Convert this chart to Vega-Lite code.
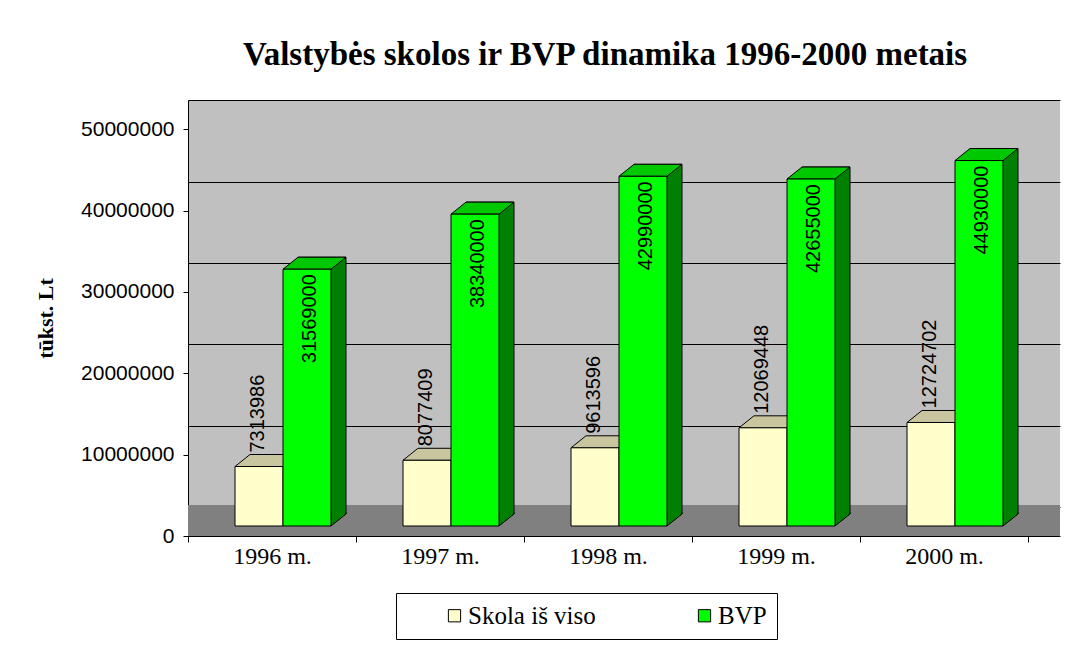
{
  "$schema": "https://vega.github.io/schema/vega-lite/v6.json",
  "width": 872,
  "height": 436,
  "autosize": "none",
  "padding": {"left": 188, "top": 100, "right": 26, "bottom": 114},
  "background": "white",
  "title": {
    "text": "Valstybės skolos ir BVP dinamika 1996-2000 metais",
    "font": "Liberation Serif",
    "fontSize": 33,
    "fontWeight": "bold",
    "color": "black",
    "baseline": "alphabetic",
    "offset": 32,
    "dy": 30,
    "dx": -19,
    "anchor": "middle"
  },
  "config": {
    "view": {"fill": "#C0C0C0", "stroke": null}
  },
  "data": {
    "values": [
      {"year": "1996 m.", "series": "Skola iš viso", "value": 7313986},
      {"year": "1997 m.", "series": "Skola iš viso", "value": 8077409},
      {"year": "1998 m.", "series": "Skola iš viso", "value": 9613596},
      {"year": "1999 m.", "series": "Skola iš viso", "value": 12069448},
      {"year": "2000 m.", "series": "Skola iš viso", "value": 12724702},
      {"year": "1996 m.", "series": "BVP", "value": 31569000},
      {"year": "1997 m.", "series": "BVP", "value": 38340000},
      {"year": "1998 m.", "series": "BVP", "value": 42990000},
      {"year": "1999 m.", "series": "BVP", "value": 42655000},
      {"year": "2000 m.", "series": "BVP", "value": 44930000}
    ]
  },
  "layer": [
    {
      "mark": {"type": "rect", "color": "#808080"},
      "encoding": {
        "y": {
          "datum": 0,
          "type": "quantitative",
          "scale": {"domain": [0, 53600000], "nice": false, "zero": true},
          "axis": {
            "orient": "right",
            "grid": true,
            "gridColor": "black",
            "gridWidth": 1,
            "gridOpacity": 1,
            "tickOffset": -29,
            "labels": false,
            "ticks": false,
            "domain": false,
            "title": null,
            "minExtent": 0,
            "maxExtent": 0,
            "values": [0, 10000000, 20000000, 30000000, 40000000, 50000000]
          }
        },
        "y2": {"datum": 3800000}
      }
    },
    {
      "transform": [{"filter": "datum.series === 'Skola iš viso'"}],
      "mark": {"type": "point", "shape": "M-1,0L1,0L1.625,-0.5L-0.375,-0.5Z", "size": 2304, "filled": true, "fill": "#C9C59E", "stroke": "black", "strokeWidth": 1, "opacity": 1, "fillOpacity": 1, "xOffset": -13, "yOffset": -10},
      "encoding": {
        "x": {"field": "year", "type": "nominal", "sort": null},
        "y": {"field": "value", "type": "quantitative", "axis": null}
      }
    },
    {
      "transform": [{"filter": "datum.series === 'Skola iš viso'"}],
      "mark": {"type": "bar", "width": 48, "xOffset": -13, "yOffset": -10, "y2Offset": -10, "stroke": "black", "strokeWidth": 1},
      "encoding": {
        "x": {
          "field": "year",
          "type": "nominal",
          "sort": null,
          "scale": {"paddingInner": 0, "paddingOuter": 0.0952, "align": 0},
          "axis": {
            "title": null,
            "labelAngle": 0,
            "labelAlign": "center",
            "labelFont": "Liberation Serif",
            "labelFontSize": 24,
            "labelColor": "black",
            "domainColor": "black",
            "tickColor": "black",
            "ticks": true,
            "tickSize": 6,
            "tickWidth": 1,
            "tickBand": "extent",
            "labelPadding": 14,
            "grid": false
          }
        },
        "y": {
          "field": "value",
          "type": "quantitative",
          "axis": {
            "orient": "left",
            "grid": false,
            "values": [0, 10000000, 20000000, 30000000, 40000000, 50000000],
            "format": "d",
            "domainColor": "black",
            "tickColor": "black",
            "tickSize": 5,
            "labelFont": "Liberation Sans",
            "labelFontSize": 21,
            "labelColor": "black",
            "labelPadding": 9,
            "title": "tūkst. Lt",
            "titleFont": "Liberation Serif",
            "titleFontSize": 22,
            "titleFontWeight": "bold",
            "titleColor": "black",
            "titleX": -143,
            "titleY": 218,
            "titleAngle": 270,
            "titleAlign": "center",
            "titleBaseline": "middle"
          }
        },
        "y2": {"datum": 0},
        "color": {
          "field": "series",
          "type": "nominal",
          "scale": {"domain": ["Skola iš viso", "BVP"], "range": ["#FFFFCC", "#00FF00"]},
          "legend": {
            "orient": "none",
            "legendX": 208,
            "legendY": 493,
            "direction": "horizontal",
            "title": null,
            "symbolType": "square",
            "symbolSize": 150,
            "symbolStrokeColor": "black",
            "symbolStrokeWidth": 1,
            "labelFont": "Liberation Serif",
            "labelFontSize": 25,
            "labelColor": "black",
            "strokeColor": "black",
            "fillColor": "white",
            "padding": 10,
            "symbolOffset": 36,
            "columnPadding": 60,
            "labelOffset": 1
          }
        }
      }
    },
    {
      "transform": [{"filter": "datum.series === 'Skola iš viso'"}],
      "mark": {"type": "text", "angle": 270, "align": "left", "baseline": "middle", "font": "Liberation Sans", "fontSize": 20, "color": "black", "xOffset": -14, "yOffset": -24},
      "encoding": {
        "x": {"field": "year", "type": "nominal", "sort": null},
        "y": {"field": "value", "type": "quantitative", "axis": null},
        "text": {"field": "value", "type": "quantitative", "format": "d"}
      }
    },
    {
      "transform": [{"filter": "datum.series === 'BVP'"}],
      "mark": {"type": "bar", "width": 48, "xOffset": 50, "yOffset": -22, "y2Offset": -22, "color": "#008000", "stroke": "black", "strokeWidth": 1},
      "encoding": {
        "x": {"field": "year", "type": "nominal", "sort": null},
        "y": {"field": "value", "type": "quantitative", "axis": null},
        "y2": {"datum": 0}
      }
    },
    {
      "transform": [{"filter": "datum.series === 'BVP'"}],
      "mark": {"type": "point", "shape": "M1.625,-0.5833L1.625,-0.5L1,0L1,-0.5833", "size": 2304, "filled": true, "fill": "#008000", "stroke": "black", "strokeWidth": 1, "opacity": 1, "fillOpacity": 1, "xOffset": 35, "yOffset": -10},
      "encoding": {
        "x": {"field": "year", "type": "nominal", "sort": null},
        "y": {"datum": 0, "type": "quantitative", "axis": null}
      }
    },
    {
      "transform": [{"filter": "datum.series === 'BVP'"}],
      "mark": {"type": "point", "shape": "M-1,0L1,0L1.625,-0.5L-0.375,-0.5Z", "size": 2304, "filled": true, "fill": "#00C800", "stroke": "black", "strokeWidth": 1, "opacity": 1, "fillOpacity": 1, "xOffset": 35, "yOffset": -10},
      "encoding": {
        "x": {"field": "year", "type": "nominal", "sort": null},
        "y": {"field": "value", "type": "quantitative", "axis": null}
      }
    },
    {
      "transform": [{"filter": "datum.series === 'BVP'"}],
      "mark": {"type": "bar", "width": 48, "xOffset": 35, "yOffset": -10, "y2Offset": -10, "stroke": "black", "strokeWidth": 1},
      "encoding": {
        "x": {"field": "year", "type": "nominal", "sort": null},
        "y": {"field": "value", "type": "quantitative", "axis": null},
        "y2": {"datum": 0},
        "color": {
          "field": "series",
          "type": "nominal",
          "scale": {"domain": ["Skola iš viso", "BVP"], "range": ["#FFFFCC", "#00FF00"]},
          "legend": {
            "orient": "none",
            "legendX": 208,
            "legendY": 493,
            "direction": "horizontal",
            "title": null,
            "symbolType": "square",
            "symbolSize": 150,
            "symbolStrokeColor": "black",
            "symbolStrokeWidth": 1,
            "labelFont": "Liberation Serif",
            "labelFontSize": 25,
            "labelColor": "black",
            "strokeColor": "black",
            "fillColor": "white",
            "padding": 10,
            "symbolOffset": 36,
            "columnPadding": 60,
            "labelOffset": 1
          }
        }
      }
    },
    {
      "transform": [{"filter": "datum.series === 'BVP'"}],
      "mark": {"type": "text", "angle": 270, "align": "right", "baseline": "middle", "font": "Liberation Sans", "fontSize": 20, "color": "black", "xOffset": 38, "yOffset": -5},
      "encoding": {
        "x": {"field": "year", "type": "nominal", "sort": null},
        "y": {"field": "value", "type": "quantitative", "axis": null},
        "text": {"field": "value", "type": "quantitative", "format": "d"}
      }
    }
  ],
  "resolve": {"axis": {"y": "independent"}}
}
